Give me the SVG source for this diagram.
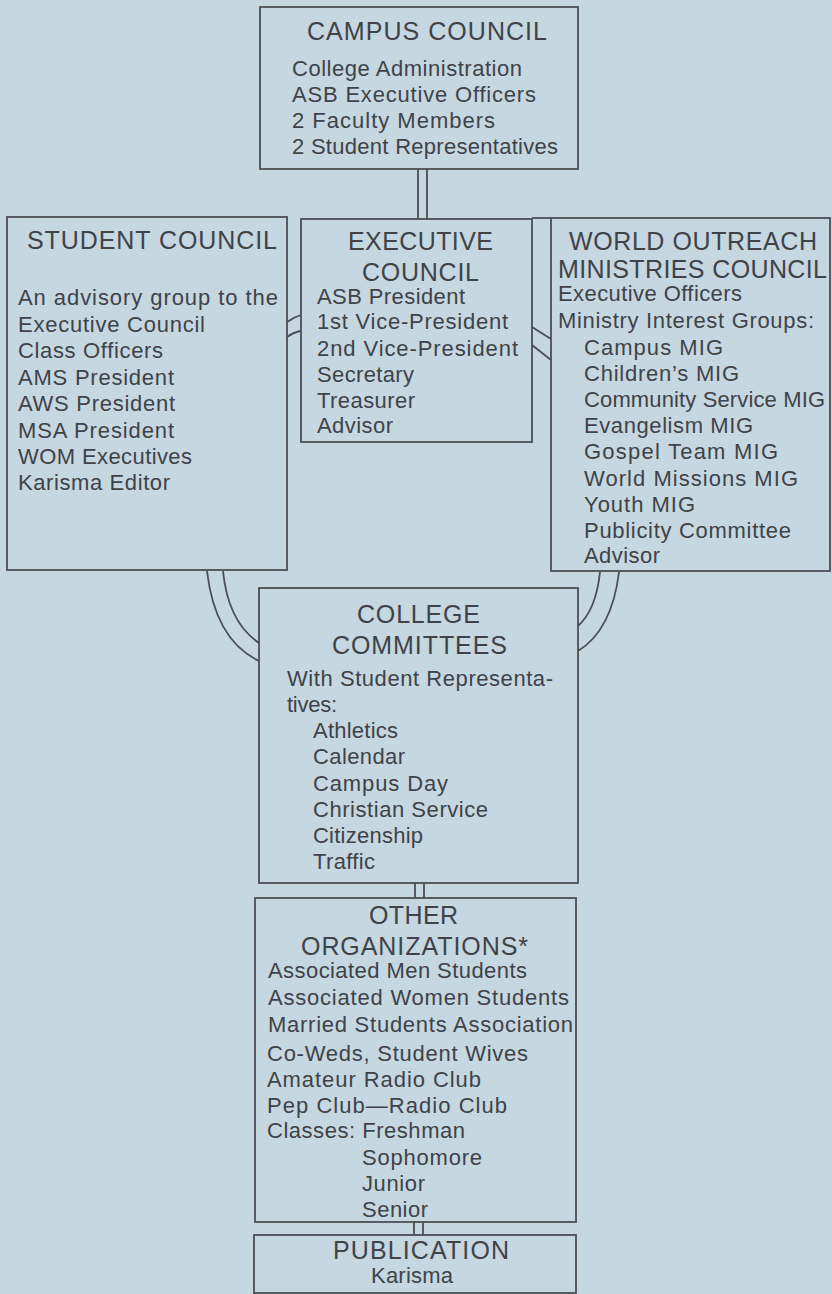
<svg xmlns="http://www.w3.org/2000/svg" width="832" height="1294" viewBox="0 0 832 1294">
<style>
.bg{fill:#c5d7e0}
.box{fill:none;stroke:#4b4f54;stroke-width:1.8}
.ln{fill:none;stroke:#4b4f54;stroke-width:1.8}
.t{font-family:"Liberation Sans",Arial,sans-serif;font-size:25px;fill:#3f4348}
.b{font-family:"Liberation Sans",Arial,sans-serif;font-size:22px;fill:#3f4348}
</style>
<rect class="bg" x="0" y="0" width="832" height="1294"/>
<g id="connectors">
<path class="ln" d="M418,169V219M427,169V219"/>
<path class="ln" d="M532,218H551"/>
<path class="ln" d="M287,322Q294,317 301,315M287,337Q294,332 301,331"/>
<path class="ln" d="M532,327L551,339M532,345L551,360"/>
<path class="ln" d="M207,571Q215,640 259,661M223,571Q228,622 259,643"/>
<path class="ln" d="M619,572Q612,630 578,651M600,572Q596,610 578,626"/>
<path class="ln" d="M415,883V898M424,883V898"/>
<path class="ln" d="M414,1222V1235M423,1222V1235"/>
</g>
<g id="campus-council">
<rect class="box" x="260" y="7" width="318" height="162"/>
<text class="t" x="307" y="40" textLength="240">CAMPUS COUNCIL</text>
<text class="b" x="292" y="76" textLength="230">College Administration</text>
<text class="b" x="292" y="102" textLength="244">ASB Executive Officers</text>
<text class="b" x="292" y="128" textLength="203">2 Faculty Members</text>
<text class="b" x="292" y="154" textLength="266">2 Student Representatives</text>
</g>
<g id="student-council">
<rect class="box" x="7" y="217" width="280" height="353"/>
<text class="t" x="27" y="249" textLength="250">STUDENT COUNCIL</text>
<text class="b" x="18" y="305" textLength="260">An advisory group to the</text>
<text class="b" x="18" y="332" textLength="187">Executive Council</text>
<text class="b" x="18" y="358" textLength="145">Class Officers</text>
<text class="b" x="18" y="385" textLength="156">AMS President</text>
<text class="b" x="18" y="411" textLength="157">AWS President</text>
<text class="b" x="18" y="438" textLength="156">MSA President</text>
<text class="b" x="18" y="464" textLength="174">WOM Executives</text>
<text class="b" x="18" y="490" textLength="152">Karisma Editor</text>
</g>
<g id="executive-council">
<rect class="box" x="301" y="219" width="231" height="223"/>
<text class="t" x="348" y="250" textLength="145">EXECUTIVE</text>
<text class="t" x="362" y="281" textLength="117">COUNCIL</text>
<text class="b" x="317" y="304" textLength="148">ASB President</text>
<text class="b" x="317" y="329" textLength="191">1st Vice-President</text>
<text class="b" x="317" y="356" textLength="201">2nd Vice-President</text>
<text class="b" x="317" y="382" textLength="97">Secretary</text>
<text class="b" x="317" y="408" textLength="98">Treasurer</text>
<text class="b" x="317" y="433" textLength="76">Advisor</text>
</g>
<g id="world-outreach-ministries-council">
<rect class="box" x="551" y="218" width="279" height="353"/>
<text class="t" x="569" y="250" textLength="248">WORLD OUTREACH</text>
<text class="t" x="558" y="278" textLength="269">MINISTRIES COUNCIL</text>
<text class="b" x="558" y="301" textLength="184">Executive Officers</text>
<text class="b" x="558" y="328" textLength="256">Ministry Interest Groups:</text>
<text class="b" x="584" y="355" textLength="139">Campus MIG</text>
<text class="b" x="584" y="381" textLength="155">Children’s MIG</text>
<text class="b" x="584" y="407" textLength="241">Community Service MIG</text>
<text class="b" x="584" y="433" textLength="169">Evangelism MIG</text>
<text class="b" x="584" y="459" textLength="194">Gospel Team MIG</text>
<text class="b" x="584" y="486" textLength="214">World Missions MIG</text>
<text class="b" x="584" y="512" textLength="111">Youth MIG</text>
<text class="b" x="584" y="538" textLength="207">Publicity Committee</text>
<text class="b" x="584" y="563" textLength="76">Advisor</text>
</g>
<g id="college-committees">
<rect class="box" x="259" y="588" width="319" height="295"/>
<text class="t" x="357" y="623" textLength="123">COLLEGE</text>
<text class="t" x="332" y="654" textLength="175">COMMITTEES</text>
<text class="b" x="287" y="686" textLength="266">With Student Representa-</text>
<text class="b" x="287" y="712" textLength="50">tives:</text>
<text class="b" x="313" y="738" textLength="85">Athletics</text>
<text class="b" x="313" y="764" textLength="92">Calendar</text>
<text class="b" x="313" y="791" textLength="135">Campus Day</text>
<text class="b" x="313" y="817" textLength="175">Christian Service</text>
<text class="b" x="313" y="843" textLength="110">Citizenship</text>
<text class="b" x="313" y="869" textLength="62">Traffic</text>
</g>
<g id="other-organizations">
<rect class="box" x="255" y="898" width="321" height="324"/>
<text class="t" x="369" y="924" textLength="89">OTHER</text>
<text class="t" x="301" y="955" textLength="227">ORGANIZATIONS*</text>
<text class="b" x="268" y="978" textLength="259">Associated Men Students</text>
<text class="b" x="268" y="1005" textLength="301">Associated Women Students</text>
<text class="b" x="268" y="1032" textLength="305">Married Students Association</text>
<text class="b" x="267" y="1061" textLength="261">Co-Weds, Student Wives</text>
<text class="b" x="267" y="1087" textLength="214">Amateur Radio Club</text>
<text class="b" x="267" y="1113" textLength="240">Pep Club—Radio Club</text>
<text class="b" x="267" y="1138" textLength="198">Classes: Freshman</text>
<text class="b" x="362" y="1165" textLength="120">Sophomore</text>
<text class="b" x="362" y="1191" textLength="63">Junior</text>
<text class="b" x="362" y="1217" textLength="66">Senior</text>
</g>
<g id="publication">
<rect class="box" x="254" y="1235" width="322" height="58"/>
<text class="t" x="333" y="1259" textLength="176">PUBLICATION</text>
<text class="b" x="371" y="1283" textLength="82">Karisma</text>
</g>
</svg>
